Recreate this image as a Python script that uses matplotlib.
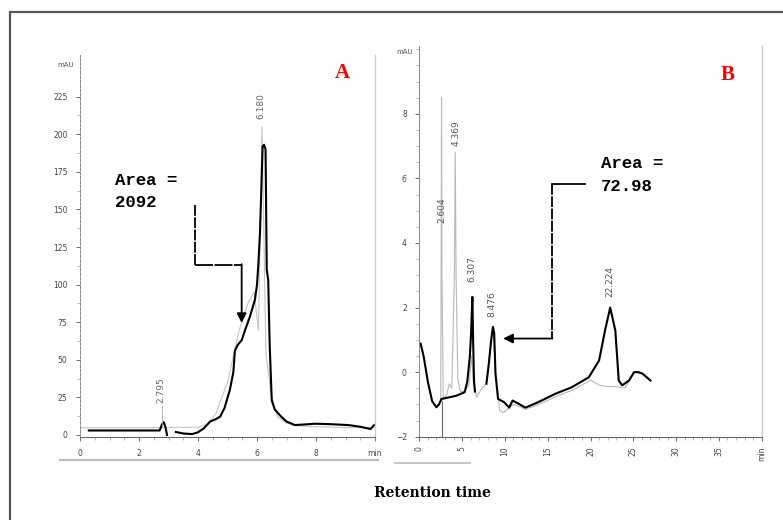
import matplotlib
matplotlib.use("Agg")
import matplotlib.pyplot as plt
from matplotlib.patches import Rectangle
from matplotlib.lines import Line2D

W, H = 783, 520

# ---- panel A data (mAU vs min) ----
a_black1_t = [0.3, 1.0, 2.0, 2.7, 2.78, 2.84, 2.9, 2.95]
a_black1_y = [3.0, 3.0, 3.0, 3.0, 7.0, 8.5, 5.0, 0.0]
a_black2_t = [3.25, 3.5, 3.8, 4.0, 4.2, 4.41, 4.6, 4.75, 4.9, 5.08, 5.2, 5.25, 5.35,
              5.48, 5.6, 5.76, 5.93, 6.0, 6.05, 6.1, 6.15, 6.19, 6.24, 6.29, 6.33,
              6.38, 6.43, 6.5, 6.6, 6.83, 7.0, 7.28, 7.6, 7.97, 8.5, 9.1, 9.5,
              9.75, 9.85, 9.97]
a_black2_y = [2.0, 1.0, 0.6, 1.8, 4.5, 8.9, 10.5, 12.2, 18, 30, 42, 56, 60,
              63, 70, 78.7, 90, 100, 115, 134, 165, 192, 193, 190, 110,
              103, 60, 23, 17, 12, 9, 6.6, 7, 7.5, 7.2, 6.6, 5.5,
              4.4, 4.0, 6.6]
a_gray_t = [0, 1, 2, 3, 4, 4.3, 4.6, 5.0, 5.4, 5.7, 5.9, 6.05, 6.12, 6.17, 6.22,
            6.3, 6.47, 6.7, 7.0, 7.4, 8, 9, 10]
a_gray_y = [4.8, 4.8, 4.8, 5.0, 5.2, 7, 14, 35, 70, 88, 95, 70, 150, 205, 150,
            55, 28, 12, 8, 6, 5.5, 5, 5]
a_peaks = [2.795, 6.180]
a_peak_lbl_y = [30, 219]

# ---- panel B data ----
b_black1_t = [0.16, 0.5, 1.0, 1.5, 2.0, 2.3, 2.6, 3.5, 4.35, 5.3, 5.6, 5.9,
              6.05, 6.2, 6.3, 6.4, 6.5]
b_black1_y = [0.88, 0.5, -0.3, -0.9, -1.09, -1.0, -0.83, -0.78, -0.73, -0.62,
              -0.3, 0.47, 1.2, 2.33, 0.8, -0.3, -0.6]
b_black2_t = [7.84, 8.1, 8.4, 8.6, 8.75, 8.9, 9.2, 9.9, 10.5, 10.9, 11.6, 12.4,
              13.9, 15.9, 17.8, 19.8, 21.0, 21.7, 22.3, 22.9, 23.3, 23.7, 24.5,
              25.1, 25.6, 26.1, 27.0]
b_black2_y = [-0.36, 0.2, 1.0, 1.4, 1.2, -0.05, -0.83, -0.93, -1.1, -0.88,
              -0.98, -1.1, -0.93, -0.67, -0.47, -0.16, 0.36, 1.29, 2.0, 1.29,
              -0.26, -0.41, -0.26, 0.0, 0.0, -0.05, -0.26]
b_gray_t = [2.5, 2.55, 2.6, 2.65, 2.8, 3.2, 3.5, 3.8, 4.1, 4.2, 4.3, 4.5, 4.65,
            4.8, 5.3, 5.8, 6.1, 6.3, 6.7, 7.2, 7.8, 8.2, 8.6, 8.9, 9.4, 9.9,
            10.5, 11, 12.4, 14, 16, 18, 20, 21, 22, 23, 24, 24.5, 25, 26, 27]
b_gray_y = [-0.9, 3, 8.5, 3, -0.85, -0.7, -0.36, -0.5, 3, 6.8, 3, -0.2, -0.41,
            -0.6, -0.6, -0.4, 0.5, -0.3, -0.78, -0.55, -0.36, 0.5, 1.4, 0, -1.2,
            -1.25, -1.1, -1.0, -1.15, -1.0, -0.75, -0.55, -0.25, -0.4, -0.45,
            -0.45, -0.5, -0.3, 0, -0.05, -0.26]
b_peaks = [2.604, 4.369, 6.307, 8.476, 22.224]
b_peak_x = [2.6, 4.3, 6.2, 8.5, 22.3]
b_peak_lbl_y = [5.0, 7.4, 3.2, 2.1, 2.8]

fig = plt.figure(figsize=(W / 100, H / 100), dpi=100)


def px(x0, y0):
    return x0 / W, 1 - y0 / H


# outer frame
fig.patches.append(Rectangle(px(10, 600), 1.0, (600 - 12) / H, transform=fig.transFigure,
                             fill=False, ec='#555555', lw=1.6))

tick_col = '#555555'


def style_axis(ax):
    ax.spines['top'].set_visible(False)
    ax.spines['right'].set_color('#cccccc')
    ax.spines['right'].set_linewidth(1.0)
    ax.spines['bottom'].set_color('#666666')
    ax.spines['left'].set_color('#888888')
    ax.spines['left'].set_linewidth(0.7)
    ax.tick_params(which='major', length=3, width=0.6, color=tick_col,
                   labelsize=5.5, labelcolor='#444444', pad=6)
    ax.tick_params(which='minor', length=2, width=0.5, color='#999999')
    ax.set_facecolor('none')


# ---------------- Panel A ----------------
axA = fig.add_axes([80 / W, (H - 437) / H, 295 / W, 382 / H])
style_axis(axA)
axA.spines['left'].set_linestyle((0, (3, 1.5)))
axA.set_xlim(0, 10)
axA.set_ylim(-1.33, 252.7)
axA.plot(a_gray_t, a_gray_y, color='#c4c4c4', lw=0.8)
axA.plot(a_black1_t, a_black1_y, color='black', lw=1.5)
axA.plot(a_black2_t, a_black2_y, color='black', lw=1.5)
for t, ly in zip(a_peaks, a_peak_lbl_y):
    axA.text(t - 0.05, ly, f'{t:.3f}', rotation=90, fontsize=6.5, color='#666666',
             ha='center', va='center')
axA.vlines(a_peaks[0] - 0.02, 5, 20, color='#aaaaaa', lw=0.6)
axA.set_xticks([0, 2, 4, 6, 8, 10])
axA.set_xticklabels(['0', '2', '4', '6', '8', 'min'])
axA.set_xticks([i * 0.5 for i in range(21)], minor=True)
axA.set_yticks(list(range(0, 226, 25)))
axA.set_yticks([i * 12.5 for i in range(19)], minor=True)

# annotation A
axA.text(1.19, 169.5, 'Area =', family='Liberation Mono', weight='bold', fontsize=12.5,
         ha='left', va='center')
axA.text(1.19, 154.5, '2092', family='Liberation Mono', weight='bold', fontsize=12.5,
         ha='left', va='center')
axA.plot([3.9, 3.9], [153, 113], color='black', lw=1.3, ls=(0, (6, 0.8)))
axA.plot([3.9, 5.48], [113, 113], color='black', lw=1.3, ls=(0, (10, 0.8)))
axA.annotate('', xy=(5.48, 74.5), xytext=(5.48, 113.6),
             arrowprops=dict(arrowstyle='-|>', color='black', lw=1.3,
                             mutation_scale=14, shrinkA=0, shrinkB=0))

fig.text(*px(66, 65), 'mAU', fontsize=5, color='#555555', ha='center', va='center')
fig.text(*px(342, 73), 'A', family='Liberation Serif', weight='bold', fontsize=15,
         color='#ff0000', ha='center', va='center')
fig.add_artist(Line2D([60 / W, 378 / W], [1 - 460 / H] * 2, color='#bbbbbb', lw=1.5))

# ---------------- Panel B ----------------
axB = fig.add_axes([419.3 / W, (H - 436.7) / H, 342.4 / W, 390.7 / H])
style_axis(axB)
axB.set_xlim(0, 40)
axB.set_ylim(-2, 10.1)
axB.plot(b_gray_t, b_gray_y, color='#b8b8b8', lw=0.8)
axB.vlines(b_peak_x[0], -2, -0.9, color='#666666', lw=0.8)
axB.plot(b_black1_t, b_black1_y, color='black', lw=1.5)
axB.plot(b_black2_t, b_black2_y, color='black', lw=1.5)
for t, x, ly in zip(b_peaks, b_peak_x, b_peak_lbl_y):
    axB.text(x, ly, f'{t:.3f}', rotation=90, fontsize=6.5, color='#555555',
             ha='center', va='center')
axB.set_xticks(list(range(0, 41, 5)))
axB.set_xticklabels([str(v) for v in range(0, 36, 5)] + ['min'], rotation=90)
axB.set_xticks(list(range(0, 41)), minor=True)
axB.set_yticks([-2, 0, 2, 4, 6, 8])
axB.set_yticks([i * 0.5 - 2 for i in range(25)], minor=True)
axB.tick_params(axis='x', pad=4)

axB.text(21.2, 6.46, 'Area =', family='Liberation Mono', weight='bold', fontsize=12.5,
         ha='left', va='center')
axB.text(21.2, 5.76, '72.98', family='Liberation Mono', weight='bold', fontsize=12.5,
         ha='left', va='center')
axB.plot([19.4, 15.5], [5.82, 5.82], color='black', lw=1.3)
axB.plot([15.5, 15.5], [5.82, 1.04], color='black', lw=1.3, ls=(0, (6, 0.8)))
axB.annotate('', xy=(9.8, 1.04), xytext=(15.55, 1.04),
             arrowprops=dict(arrowstyle='-|>', color='black', lw=1.3,
                             mutation_scale=14, shrinkA=0, shrinkB=0))

fig.text(*px(405, 52), 'mAU', fontsize=5, color='#555555', ha='center', va='center')
fig.text(*px(728, 75), 'B', family='Liberation Serif', weight='bold', fontsize=15,
         color='#ff0000', ha='center', va='center')
fig.add_artist(Line2D([395 / W, 470 / W], [1 - 463 / H] * 2, color='#bbbbbb', lw=1.2))

fig.text(*px(432, 493), 'Retention time', family='DejaVu Serif', weight='bold',
         fontsize=10, ha='center', va='center')

fig.savefig('out.png', dpi=100)
